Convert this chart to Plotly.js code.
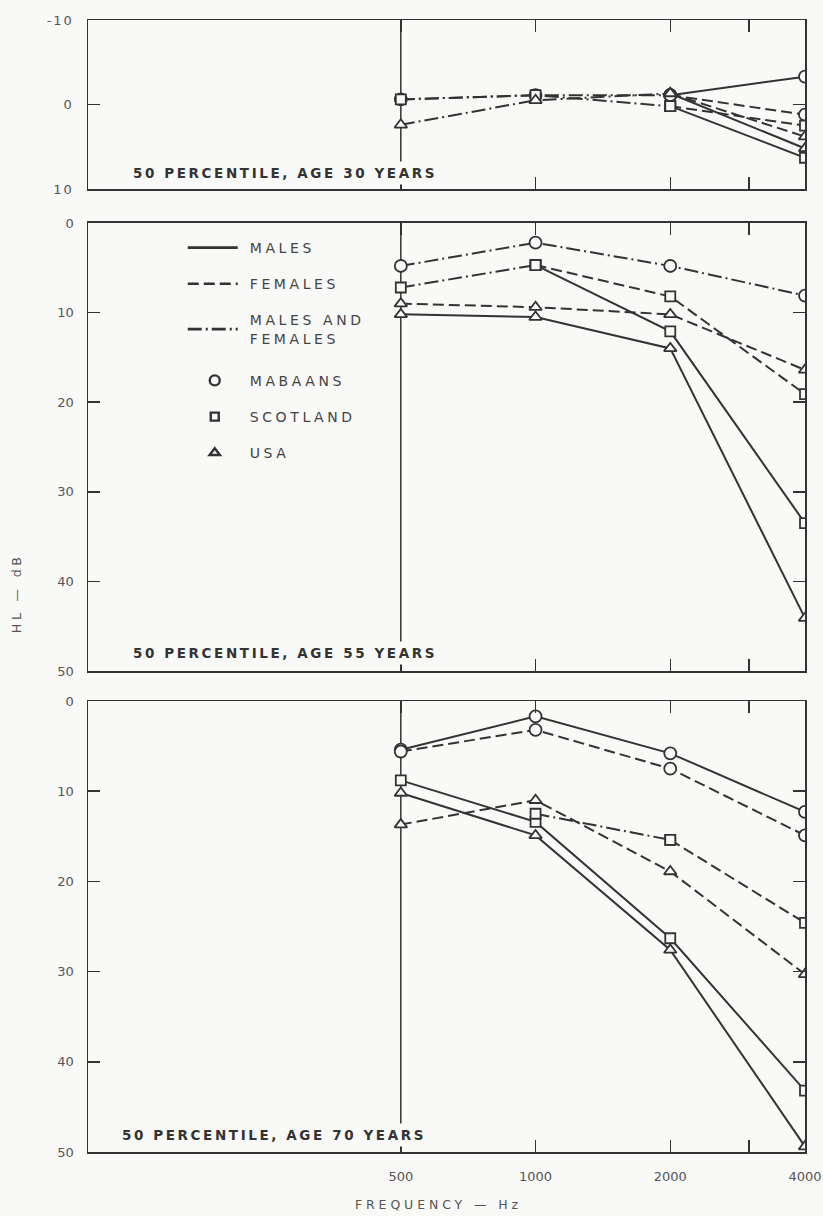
<!DOCTYPE html>
<html>
<head>
<meta charset="utf-8">
<script src="https://cdn.plot.ly/plotly-3.0.1.min.js"></script>
<style>
  html, body { margin: 0; padding: 0; background: #f9f9f7; }
  #chart { width: 823px; height: 1216px; }
  .annotation-text { letter-spacing: 2.6px; }
  g.annotation[data-index="3"] .annotation-text { letter-spacing: 3.8px; }
  g.annotation[data-index="4"] .annotation-text { letter-spacing: 3.9px; }
  .legend .legendtext { letter-spacing: 3.6px; }
  .legend .scrollbox { clip-path: none !important; }
  .xtick text, .ytick text { letter-spacing: 2px; }
</style>
</head>
<body>
<div id="chart"></div>
<script>
// ---------- data ----------
const FREQ = [500, 1000, 2000, 4000];
const TICK_FREQ = [500, 1000, 2000, 3000, 4000];
const TICK_TEXT = ['500', '1000', '2000', '', '4000'];
const Y30_TICKS = [-10, 0, 10];
const Y30_TEXT = ['-10', '0', '10'];
const Y_TICKS = [0, 10, 20, 30, 40, 50];

// Age 30 (HL, dB)
const a30_mab_mf = [-0.6, -1.1, -1.1, null];
const a30_sco_mf = [-0.6, -1.1, 0.2, null];
const a30_usa_mf = [2.4, -0.5, -1.3, null];
const a30_mab_m = [null, null, -1.1, -3.3];
const a30_mab_f = [null, null, -1.1, 1.2];
const a30_sco_m = [null, null, 0.2, 6.3];
const a30_sco_f = [null, null, 0.2, 2.5];
const a30_usa_m = [null, null, -1.3, 5.2];
const a30_usa_f = [null, null, -1.3, 3.8];

// Age 55
const a55_mab_mf = [4.8, 2.2, 4.8, 8.1];
const a55_sco_mf = [7.2, 4.7, null, null];
const a55_sco_f = [null, 4.7, 8.2, 19.1];
const a55_sco_m = [null, 4.7, 12.1, 33.5];
const a55_usa_f = [9.0, 9.4, 10.2, 16.4];
const a55_usa_m = [10.2, 10.5, 14.0, 44.1];

// Age 70
const a70_mab_m = [5.4, 1.7, 5.8, 12.3];
const a70_mab_f = [5.6, 3.2, 7.5, 14.9];
const a70_sco_m = [8.8, 13.4, 26.3, 43.2];
const a70_sco_mf = [null, 12.5, 15.4, null];
const a70_sco_f = [null, null, 15.4, 24.6];
const a70_usa_m = [10.2, 14.9, 27.6, 49.4];
const a70_usa_f = [13.7, 11.0, 18.9, 30.3];

const PANEL_LABELS = ['50 PERCENTILE, AGE 30 YEARS', '50 PERCENTILE, AGE 55 YEARS', '50 PERCENTILE, AGE 70 YEARS'];
const LEGEND_STYLES = ['MALES', 'FEMALES', 'MALES AND<br>FEMALES'];
const LEGEND_GROUPS = ['MABAANS', 'SCOTLAND', 'USA'];

// ---------- styles ----------
const BG = '#f9f9f7';
const INK = '#333333';
const DASH = { m: 'solid', f: '11px,5px', mf: '14px,4px,2px,4px' };
const SYM = { mab: 'circle', sco: 'square', usa: 'triangle-up' };
const SIZE = { mab: 12, sco: 10, usa: 11 };

function tr(y, grp, style, xa, ya) {
  return {
    x: FREQ, y: y, xaxis: xa, yaxis: ya, type: 'scatter', mode: 'lines+markers',
    connectgaps: false, showlegend: false, hoverinfo: 'skip',
    line: { color: INK, width: 2, dash: DASH[style] },
    marker: { symbol: SYM[grp], size: SIZE[grp], color: BG, line: { color: INK, width: 1.8 } }
  };
}

const traces = [
  tr(a30_mab_mf, 'mab', 'mf', 'x', 'y'),
  tr(a30_sco_mf, 'sco', 'mf', 'x', 'y'),
  tr(a30_usa_mf, 'usa', 'mf', 'x', 'y'),
  tr(a30_mab_f, 'mab', 'f', 'x', 'y'),
  tr(a30_sco_f, 'sco', 'f', 'x', 'y'),
  tr(a30_usa_f, 'usa', 'f', 'x', 'y'),
  tr(a30_mab_m, 'mab', 'm', 'x', 'y'),
  tr(a30_sco_m, 'sco', 'm', 'x', 'y'),
  tr(a30_usa_m, 'usa', 'm', 'x', 'y'),

  tr(a55_mab_mf, 'mab', 'mf', 'x2', 'y2'),
  tr(a55_sco_mf, 'sco', 'mf', 'x2', 'y2'),
  tr(a55_sco_f, 'sco', 'f', 'x2', 'y2'),
  tr(a55_sco_m, 'sco', 'm', 'x2', 'y2'),
  tr(a55_usa_f, 'usa', 'f', 'x2', 'y2'),
  tr(a55_usa_m, 'usa', 'm', 'x2', 'y2'),

  tr(a70_mab_m, 'mab', 'm', 'x3', 'y3'),
  tr(a70_mab_f, 'mab', 'f', 'x3', 'y3'),
  tr(a70_sco_m, 'sco', 'm', 'x3', 'y3'),
  tr(a70_sco_mf, 'sco', 'mf', 'x3', 'y3'),
  tr(a70_sco_f, 'sco', 'f', 'x3', 'y3'),
  tr(a70_usa_m, 'usa', 'm', 'x3', 'y3'),
  tr(a70_usa_f, 'usa', 'f', 'x3', 'y3')
];

// legend-only entries
const styleKeys = ['m', 'f', 'mf'];
LEGEND_STYLES.forEach((name, i) => {
  traces.push({
    x: [null], y: [null], xaxis: 'x2', yaxis: 'y2', type: 'scatter', mode: 'lines',
    name: name, legendgroup: 'g' + i, showlegend: true, hoverinfo: 'skip',
    line: { color: INK, width: 2.6, dash: DASH[styleKeys[i]] }
  });
});
const grpKeys = ['mab', 'sco', 'usa'];
LEGEND_GROUPS.forEach((name, i) => {
  traces.push({
    x: [null], y: [null], xaxis: 'x2', yaxis: 'y2', type: 'scatter', mode: 'markers',
    name: name, legendgroup: 'h' + i, showlegend: true, hoverinfo: 'skip',
    marker: { symbol: SYM[grpKeys[i]], size: SIZE[grpKeys[i]] - 2, color: BG, line: { color: INK, width: 2.4 } }
  });
});

const TICKFONT = { family: 'DejaVu Sans', size: 13, color: '#555' };

function xax(anchor, labels) {
  return {
    type: 'log', range: [2, Math.log10(4000)], anchor: anchor,
    tickvals: TICK_FREQ, ticktext: TICK_TEXT, showticklabels: labels,
    ticks: 'inside', ticklen: 12, tickwidth: 1.5, tickcolor: INK,
    showline: true, linecolor: INK, linewidth: 1.5, mirror: 'ticks',
    showgrid: false, zeroline: false, tickfont: TICKFONT, ticklabelstandoff: 12,
    fixedrange: true
  };
}
function yax(anchor, domain, range, tickvals, ticktext) {
  return {
    anchor: anchor, domain: domain, range: range, tickvals: tickvals, ticktext: ticktext,
    ticks: 'inside', ticklen: 12, tickwidth: 1.5, tickcolor: INK,
    showline: true, linecolor: INK, linewidth: 1.5, mirror: 'ticks',
    showgrid: false, zeroline: false, tickfont: TICKFONT, ticklabelstandoff: 10,
    fixedrange: true
  };
}

const panelY = [0.095, 0.04, 0.038];
const panelX = [0.0572, 0.0572, 0.0418];
const yrefs = ['y domain', 'y2 domain', 'y3 domain'];
const xrefs = ['x', 'x2', 'x3'];

const annotations = PANEL_LABELS.map((t, i) => ({
  text: t, xref: 'paper', x: panelX[i], xanchor: 'left',
  yref: yrefs[i], y: panelY[i], yanchor: 'middle', showarrow: false,
  bgcolor: BG, borderpad: 3,
  font: { family: 'DejaVu Sans', size: 13.5, color: INK, weight: 'bold' }
}));
annotations.push({
  text: 'HL — dB', xref: 'paper', yref: 'paper', x: -0.112, y: 0.494, textangle: -90,
  showarrow: false, font: { family: 'DejaVu Sans', size: 12.5, color: '#555' }
});
annotations.push({
  text: 'FREQUENCY — Hz', xref: 'paper', yref: 'paper', x: 0.4895, y: -0.055,
  showarrow: false, font: { family: 'DejaVu Sans', size: 12.5, color: '#555' }
});

const shapes = xrefs.map((xr, i) => ({
  type: 'line', xref: xr, yref: yrefs[i], x0: FREQ[0], x1: FREQ[0], y0: 0, y1: 1,
  line: { color: INK, width: 1.5 }, layer: 'below'
}));

const layout = {
  width: 823, height: 1216,
  margin: { l: 88, r: 18, t: 20, b: 64 },
  paper_bgcolor: BG, plot_bgcolor: BG,
  showlegend: true,
  legend: {
    x: 0.1698, y: 0.8127, xanchor: 'left', yanchor: 'top',
    bgcolor: 'rgba(0,0,0,0)', borderwidth: 0,
    traceorder: 'grouped', tracegroupgap: 15,
    font: { family: 'DejaVu Sans', size: 14, color: '#444' }
  },
  xaxis: xax('y', false),
  yaxis: yax('x', [0.8507, 1], [10, -10], Y30_TICKS, Y30_TEXT),
  xaxis2: xax('y2', false),
  yaxis2: yax('x2', [0.4249, 0.8207], [50, 0], Y_TICKS),
  xaxis3: xax('y3', true),
  yaxis3: yax('x3', [0, 0.3984], [50, 0], Y_TICKS),
  annotations: annotations,
  shapes: shapes
};

function patchLegend() {
  document.querySelectorAll('.legend g.traces').forEach(g => {
    const t = g.querySelector('.legendtext');
    if (!t) return;
    const tx = parseFloat(t.getAttribute('x')) || 40;
    g.querySelectorAll('.legendlines path').forEach(p => p.setAttribute('d', 'M' + (tx - 62) + ',0h50'));
    g.querySelectorAll('.legendpoints path.scatterpts').forEach(p => p.setAttribute('transform', 'translate(' + (tx - 35) + ',0)'));
  });
  // extra space below the two-line entry
  document.querySelectorAll('.legend g.groups').forEach((g, i) => {
    if (i < 3) return;
    if (!g.hasAttribute('data-orig')) g.setAttribute('data-orig', g.getAttribute('transform') || '');
    const orig = g.getAttribute('data-orig');
    const m = /translate\(\s*([-\d.]+)[ ,]+([-\d.]+)\s*\)/.exec(orig);
    if (m) g.setAttribute('transform', 'translate(' + m[1] + ',' + (parseFloat(m[2]) + 6) + ')');
  });
}

Plotly.newPlot('chart', traces, layout, { staticPlot: true, displayModeBar: false }).then(gd => {
  patchLegend();
  setTimeout(patchLegend, 0);
  setTimeout(patchLegend, 200);
  if (gd.on) gd.on('plotly_afterplot', patchLegend);
});
</script>
</body>
</html>
